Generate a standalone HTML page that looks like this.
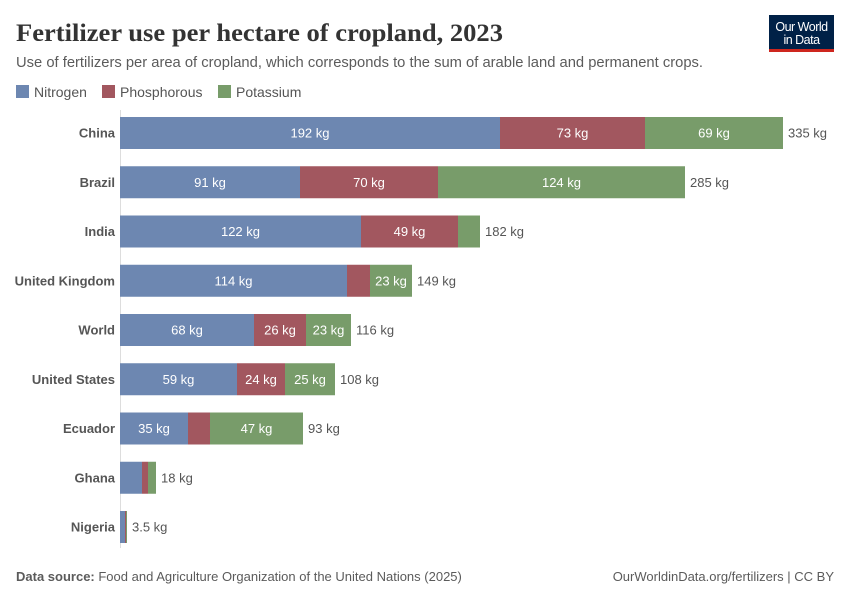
<!DOCTYPE html>
<html><head><meta charset="utf-8"><style>
body{margin:0;background:#fff;width:850px;height:600px;overflow:hidden}
svg text{font-family:"Liberation Sans",sans-serif}
</style></head><body>
<svg width="850" height="600" xmlns="http://www.w3.org/2000/svg">
<text x="16" y="41" style="font-family:'Liberation Serif',serif" font-size="25.5" font-weight="bold" fill="#333" textLength="487" lengthAdjust="spacingAndGlyphs">Fertilizer use per hectare of cropland, 2023</text>
<text x="16" y="67" font-size="14.5" fill="#5b5b5b" textLength="687" lengthAdjust="spacingAndGlyphs">Use of fertilizers per area of cropland, which corresponds to the sum of arable land and permanent crops.</text>
<rect x="769" y="15" width="65" height="34" fill="#002147"/>
<rect x="769" y="49" width="65" height="3" fill="#ce261e"/>
<text x="801.5" y="31" font-size="12.5" fill="#fff" text-anchor="middle" letter-spacing="-0.5">Our World</text>
<text x="801.5" y="44" font-size="12.5" fill="#fff" text-anchor="middle" letter-spacing="-0.5">in Data</text>
<rect x="16" y="85" width="13" height="13" fill="#6d87b1"/><text x="34" y="97" font-size="14" fill="#555">Nitrogen</text>
<rect x="102" y="85" width="13" height="13" fill="#a2575f"/><text x="120" y="97" font-size="14" fill="#555">Phosphorous</text>
<rect x="218" y="85" width="13" height="13" fill="#789c6a"/><text x="236" y="97" font-size="14" fill="#555">Potassium</text>
<line x1="120.5" y1="110" x2="120.5" y2="548" stroke="#ddd"/>
<g id="bars" font-size="13"></g>
<text x="16" y="581" font-size="13" fill="#5b5b5b"><tspan font-weight="bold">Data source:</tspan> Food and Agriculture Organization of the United Nations (2025)</text>
<text x="834" y="581" font-size="13" fill="#5b5b5b" text-anchor="end">OurWorldinData.org/fertilizers | CC BY</text>
</svg>
<script>
var d=[["China",[120,500,645,783],["192 kg","73 kg","69 kg"],"335 kg"],
["Brazil",[120,300,438,685],["91 kg","70 kg","124 kg"],"285 kg"],
["India",[120,361,458,480],["122 kg","49 kg",""],"182 kg"],
["United Kingdom",[120,347,370,412],["114 kg","","23 kg"],"149 kg"],
["World",[120,254,306,351],["68 kg","26 kg","23 kg"],"116 kg"],
["United States",[120,237,285,335],["59 kg","24 kg","25 kg"],"108 kg"],
["Ecuador",[120,188,210,303],["35 kg","","47 kg"],"93 kg"],
["Ghana",[120,142,148,156],["","",""],"18 kg"],
["Nigeria",[120,125,126,127],["","",""],"3.5 kg"]];
var c=["#6d87b1","#a2575f","#789c6a"],s="";
d.forEach(function(r,i){var y=117+i*49.25,m=y+16+4.5;
s+='<text x="115" y="'+m+'" text-anchor="end" font-weight="bold" fill="#555">'+r[0]+'</text>';
for(var k=0;k<3;k++){var a=r[1][k],b=r[1][k+1];
s+='<rect x="'+a+'" y="'+y+'" width="'+(b-a)+'" height="32" fill="'+c[k]+'"/>';
if(r[2][k])s+='<text x="'+((a+b)/2)+'" y="'+m+'" text-anchor="middle" fill="#fff">'+r[2][k]+'</text>';}
s+='<text x="'+(r[1][3]+5)+'" y="'+m+'" fill="#555">'+r[3]+'</text>';});
document.getElementById("bars").innerHTML=s;
</script>
</body></html>
